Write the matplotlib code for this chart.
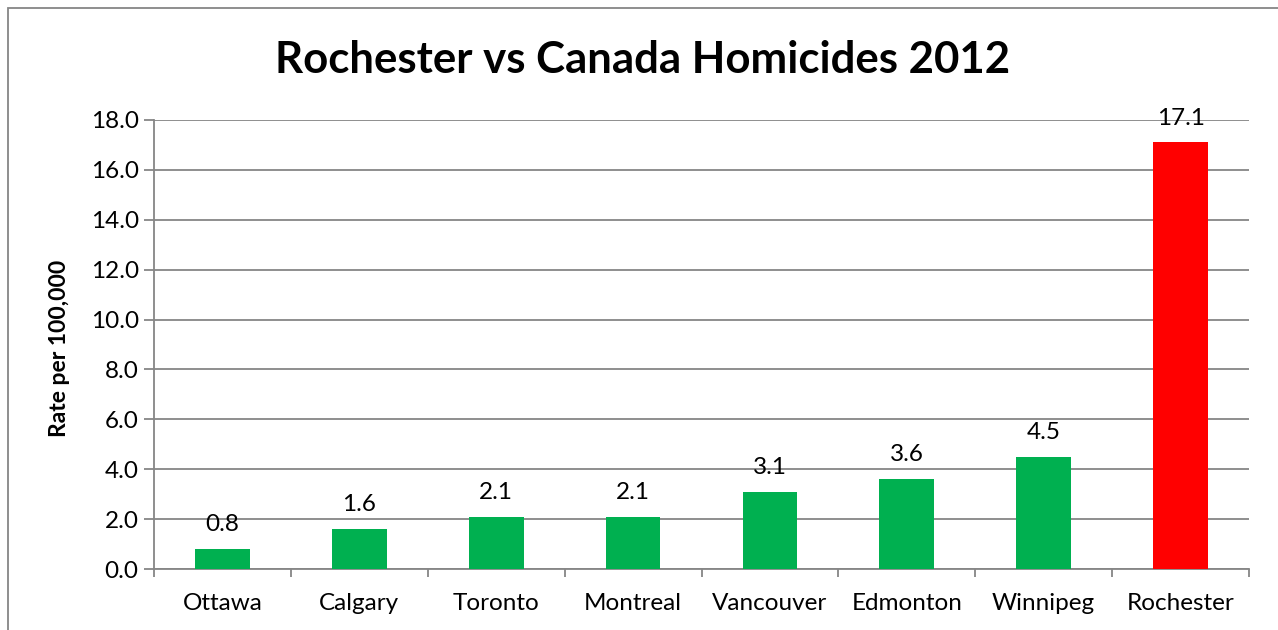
import matplotlib
matplotlib.use("Agg")
import matplotlib.pyplot as plt
from matplotlib.patches import Rectangle

cities = ["Ottawa", "Calgary", "Toronto", "Montreal", "Vancouver", "Edmonton", "Winnipeg", "Rochester"]
rates = [0.8, 1.6, 2.1, 2.1, 3.1, 3.6, 4.5, 17.1]
bar_colors = ["#00B050"] * 7 + ["#FF0000"]
yticks = [0, 2, 4, 6, 8, 10, 12, 14, 16, 18]

plt.rcParams["font.family"] = ["Lato", "DejaVu Sans"]

W, H = 1278, 630
fig = plt.figure(figsize=(W / 100, H / 100), dpi=100)
ax = fig.add_axes([154 / W, 1 - 569 / H, (1249 - 154) / W, (569 - 120) / H])

x = list(range(len(cities)))
ax.bar(x, rates, width=0.4, color=bar_colors, zorder=3)
for xi, v in zip(x, rates):
    ax.annotate(f"{v:.1f}", (xi, v), xytext=(0, 10), textcoords="offset points",
                ha="center", va="bottom", fontsize=17.5, color="#000000", zorder=4)

ax.set_xlim(-0.5, len(cities) - 0.5)
ax.set_ylim(0, 18)
ax.set_yticks(yticks)
ax.set_yticklabels([f"{t:.1f}" for t in yticks], fontsize=17.5)
ax.yaxis.grid(True, color="#868686", linewidth=1.3, zorder=0)
ax.set_axisbelow(True)

ax.set_xticks(x)
ax.set_xticklabels(cities, fontsize=17.5)
ax.set_xticks([i - 0.5 for i in range(len(cities) + 1)], minor=True)
ax.tick_params(axis="x", which="major", length=0, pad=17)
ax.tick_params(axis="x", which="minor", length=6, width=1.3, color="#868686", direction="out")
ax.tick_params(axis="y", length=7, width=1.3, color="#868686", pad=4)

for side in ["top", "right"]:
    ax.spines[side].set_visible(False)
for side in ["left", "bottom"]:
    ax.spines[side].set_color("#868686")
    ax.spines[side].set_linewidth(1.3)

fig.text(60 / W, 1 - 348 / H, "Rate per 100,000", rotation=90,
         ha="center", va="center", fontsize=16.5, fontweight="bold")
fig.text(643 / W, 1 - 60 / H, "Rochester vs Canada Homicides 2012",
         ha="center", va="center", fontsize=31.5, fontweight="bold")

fig.patches.append(Rectangle((7.5 / W, -0.1), 1.2, 1 - 8.5 / H + 0.1,
                             transform=fig.transFigure, fill=False,
                             edgecolor="#868686", linewidth=1.3))

fig.savefig("out.png", dpi=100, facecolor="white")
